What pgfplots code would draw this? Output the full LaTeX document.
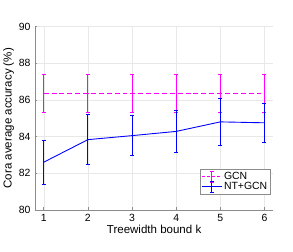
\documentclass[border=0pt]{standalone}
\usepackage{pgfplots}
\pgfplotsset{compat=1.18}
\usepackage{fontspec}
\setmainfont{Liberation Sans}
\definecolor{axgray}{rgb}{0.55,0.55,0.55}
\definecolor{gridgray}{rgb}{0.91,0.91,0.91}
\definecolor{mag}{rgb}{1,0,1}
\begin{document}
\begin{tikzpicture}
\begin{axis}[
  scale only axis, width=242pt, height=186pt,
  xmin=0.8, xmax=6.2, ymin=80, ymax=90,
  xtick={1,2,3,4,5,6}, ytick={80,82,84,86,88,90},
  axis x line*=bottom, axis y line*=left,
  axis line style={axgray, line width=0.5pt, -},
  tick align=inside, major tick length=2.5pt,
  tick style={axgray, line width=0.5pt},
  grid=major, grid style={gridgray, line width=0.4pt},
  tick label style={font=\fontsize{10.6}{12}\selectfont},
  xticklabel style={yshift=-1pt},
  yticklabel style={xshift=-1pt},
  /pgf/number format/assume math mode=true,
  xlabel={Treewidth bound k}, ylabel={Cora average accuracy (\%)},
  label style={font=\fontsize{11.7}{13}\selectfont},
  xlabel style={yshift=3pt},
  ylabel style={yshift=-2pt},
  unbounded coords=jump,
]
% GCN mean
\addplot[draw=mag, line width=1.1pt, dash pattern=on 5pt off 3pt, mark=none] coordinates {
  (1,86.35) (2,86.35) (3,86.35) (4,86.35) (5,86.35) (6,86.35)
};
% GCN error bars (low, high) with caps
\addplot[draw=mag, line width=0.9pt, mark=none, solid] coordinates {
  (1,85.33) (1,87.37) (nan,nan) (0.955,85.33) (1.045,85.33) (nan,nan) (0.955,87.37) (1.045,87.37) (nan,nan)
  (2,85.33) (2,87.37) (nan,nan) (1.955,85.33) (2.045,85.33) (nan,nan) (1.955,87.37) (2.045,87.37) (nan,nan)
  (3,85.33) (3,87.37) (nan,nan) (2.955,85.33) (3.045,85.33) (nan,nan) (2.955,87.37) (3.045,87.37) (nan,nan)
  (4,85.33) (4,87.37) (nan,nan) (3.955,85.33) (4.045,85.33) (nan,nan) (3.955,87.37) (4.045,87.37) (nan,nan)
  (5,85.33) (5,87.37) (nan,nan) (4.955,85.33) (5.045,85.33) (nan,nan) (4.955,87.37) (5.045,87.37) (nan,nan)
  (6,85.33) (6,87.37) (nan,nan) (5.955,85.33) (6.045,85.33) (nan,nan) (5.955,87.37) (6.045,87.37)
};
% NT+GCN error bars
\addplot[color=blue, line width=0.9pt, mark=none] coordinates {
  (1,81.39) (1,83.81) (nan,nan) (0.955,81.39) (1.045,81.39) (nan,nan) (0.955,83.81) (1.045,83.81) (nan,nan)
  (2,82.47) (2,85.19) (nan,nan) (1.955,82.47) (2.045,82.47) (nan,nan) (1.955,85.19) (2.045,85.19) (nan,nan)
  (3,82.97) (3,85.13) (nan,nan) (2.955,82.97) (3.045,82.97) (nan,nan) (2.955,85.13) (3.045,85.13) (nan,nan)
  (4,83.14) (4,85.42) (nan,nan) (3.955,83.14) (4.045,83.14) (nan,nan) (3.955,85.42) (4.045,85.42) (nan,nan)
  (5,83.52) (5,86.08) (nan,nan) (4.955,83.52) (5.045,83.52) (nan,nan) (4.955,86.08) (5.045,86.08) (nan,nan)
  (6,83.68) (6,85.82) (nan,nan) (5.955,83.68) (6.045,83.68) (nan,nan) (5.955,85.82) (6.045,85.82)
};
% NT+GCN mean
\addplot[color=blue, line width=0.9pt, mark=none] coordinates {
  (1,82.60) (2,83.83) (3,84.05) (4,84.28) (5,84.80) (6,84.75)
};
\end{axis}
\begin{axis}[
  scale only axis, width=242pt, height=186pt,
  xmin=0.8, xmax=6.2, ymin=80, ymax=90,
  hide axis,
  legend style={at={(0.988,0.086)}, anchor=south east, draw=axgray, font=\fontsize{10.6}{12}\selectfont, inner sep=1pt, row sep=-3pt, fill=white},
  legend cell align=left,
]
\addlegendimage{legend image code/.code={
  \draw[mag, line width=0.9pt, dash pattern=on 3pt off 2pt] (0pt,0pt) -- (20pt,0pt);
  \draw[mag, line width=0.9pt] (10pt,-5.5pt) -- (10pt,5.5pt);
  \draw[mag, line width=0.9pt] (8pt,-5.5pt) -- (12pt,-5.5pt);
  \draw[mag, line width=0.9pt] (8pt,5.5pt) -- (12pt,5.5pt);
}}
\addlegendentry{GCN}
\addlegendimage{legend image code/.code={
  \draw[blue, line width=0.9pt] (0pt,0pt) -- (20pt,0pt);
  \draw[blue, line width=0.9pt] (10pt,-5.5pt) -- (10pt,5.5pt);
  \draw[blue, line width=0.9pt] (8pt,-5.5pt) -- (12pt,-5.5pt);
  \draw[blue, line width=0.9pt] (8pt,5.5pt) -- (12pt,5.5pt);
}}
\addlegendentry{NT+GCN}
\end{axis}
\path (current axis.south west) ++(-31pt,-42pt) coordinate (bl);
\path (current axis.north east) ++(20pt,27pt) coordinate (tr);
\path (bl) rectangle (tr);
\end{tikzpicture}
\end{document}
